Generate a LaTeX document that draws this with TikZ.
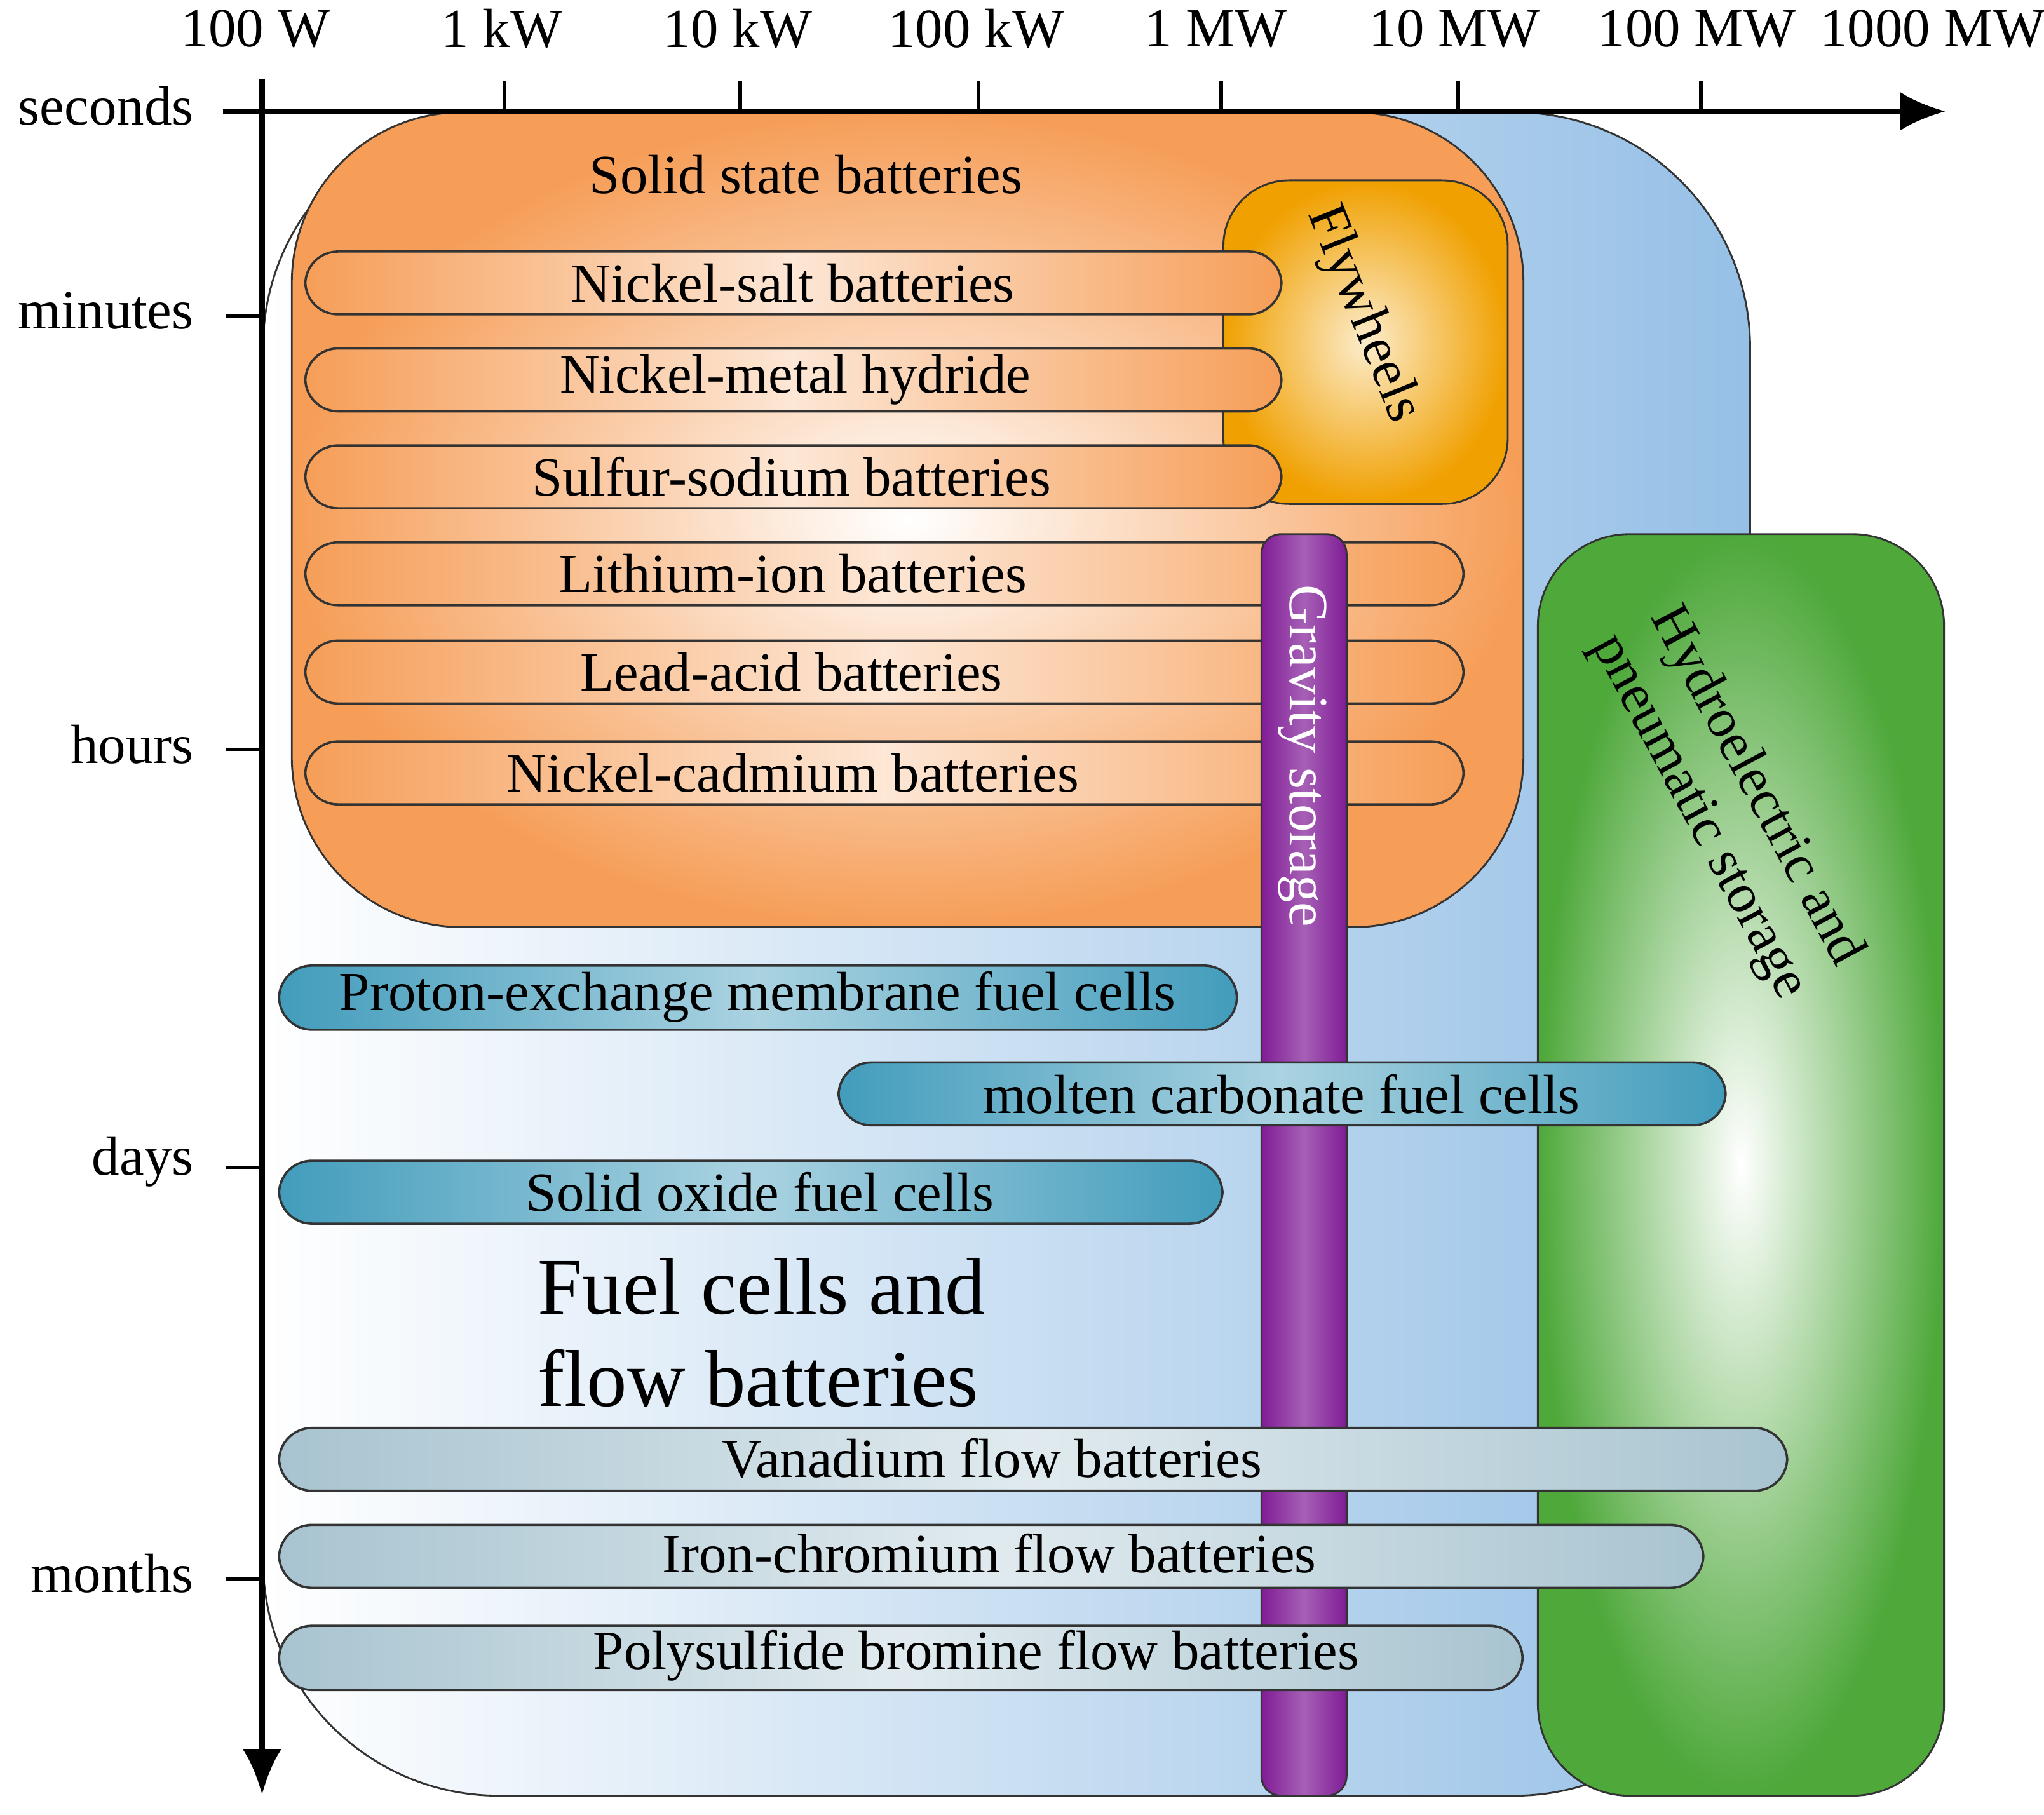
\documentclass[tikz,border=0pt]{standalone}
\usepackage{fontspec}
\setmainfont{Liberation Serif}
\usetikzlibrary{arrows.meta}
\definecolor{bl}{RGB}{150,192,230}
\definecolor{org}{RGB}{246,158,88}
\definecolor{fly}{RGB}{240,160,0}
\definecolor{pur}{RGB}{128,28,150}
\definecolor{grn}{RGB}{78,168,58}
\definecolor{teal}{RGB}{66,156,188}
\definecolor{gry}{RGB}{168,196,208}
\tikzset{
 lab/.style={font=\fontsize{12}{14}\selectfont},
 obar/.style={draw=black!80,line width=0.5pt,rounded corners=2.5mm,left color=org,right color=org,middle color=org!25},
 tbar/.style={draw=black!80,line width=0.5pt,rounded corners=2.5mm,left color=teal,right color=teal,middle color=teal!45},
 gbar/.style={draw=black!80,line width=0.5pt,rounded corners=2.5mm,left color=gry,right color=gry,middle color=gry!35},
 tick/.style={line width=0.8pt},
}
\begin{document}
\begin{tikzpicture}[x=0.1mm,y=-0.1mm]
\useasboundingbox (0,0) rectangle (1560,1385);
% blue region
\node[draw=black!80,rounded corners=18mm,left color=white,right color=bl,minimum width=1135*0.1mm,minimum height=1285*0.1mm,inner sep=0pt,anchor=north west] (blue) at (200,85) {};
% green
\node[draw=black!80,rounded corners=7mm,inner color=white,outer color=grn,minimum width=310*0.1mm,minimum height=963*0.1mm,inner sep=0pt,anchor=north west] (green) at (1173,407) {};
\node[lab,rotate=-62,align=center] (gt) at (1318,612) {Hydroelectric and\\pneumatic storage};
% orange
\node[draw=black!80,rounded corners=13mm,inner color=white,outer color=org,minimum width=940*0.1mm,minimum height=622*0.1mm,inner sep=0pt,anchor=north west] (orange) at (222,85) {};
\node[lab] (ss) at (615,133) {Solid state batteries};
\node[draw=black!80,rounded corners=5mm,inner color=fly!20,outer color=fly,minimum width=217*0.1mm,minimum height=247*0.1mm,inner sep=0pt,anchor=north west] (fly) at (933,137) {};
\node[lab,rotate=-68] (flyt) at (1040,240) {Flywheels};
% orange bars
\foreach \n/\a/\b/\c/\t in {ns/192/978/605/Nickel-salt batteries, nm/266/978/607/Nickel-metal hydride, sn/340/978/604/Sulfur-sodium batteries, li/414/1117/605/Lithium-ion batteries, la/489/1117/604/Lead-acid batteries, nc/566/1117/605/Nickel-cadmium batteries}{
 \path[obar] (233,\a) rectangle (\b,\a+48);
 \node[lab] (\n) at (\c,\a+24) {\t};
}
% gravity
\node[draw=black!80,rounded corners=1.5mm,left color=pur,right color=pur,middle color=pur!70,minimum width=65*0.1mm,minimum height=963*0.1mm,inner sep=0pt,anchor=north west] (grav) at (962,407) {};
\node[lab,rotate=-90,text=white] (gravt) at (994,577) {Gravity storage};
% teal bars
\path[tbar] (213,737) rectangle (944,786); \node[lab] (pem) at (578,761) {Proton-exchange membrane fuel cells};
\path[tbar] (640,811) rectangle (1317,859); \node[lab] (mc) at (978,835) {molten carbonate fuel cells};
\path[tbar] (213,886) rectangle (933,934); \node[lab] (so) at (580,910) {Solid oxide fuel cells};
\node[font=\fontsize{17.5}{20}\selectfont,align=left,anchor=north west] (fc) at (398,948) {Fuel cells and\\flow batteries};
% gray bars
\path[gbar] (213,1090) rectangle (1364,1138); \node[lab] (va) at (757,1113) {Vanadium flow batteries};
\path[gbar] (213,1164) rectangle (1300,1212); \node[lab] (ic) at (755,1186) {Iron-chromium flow batteries};
\path[gbar] (213,1241) rectangle (1162,1290); \node[lab] (pb) at (745,1264) {Polysulfide bromine flow batteries};
% axes
\coordinate (xa) at (170,85); \coordinate (xb) at (1485,85);
\coordinate (ya) at (200,60); \coordinate (yb) at (200,1370);
\draw[line width=1.3pt,-{Latex[length=3.5mm,width=3mm]}] (xa) -- (xb);
\draw[line width=1.3pt,-{Latex[length=3.5mm,width=3mm]}] (ya) -- (yb);
\foreach \x/\l/\lx in {385/1 kW/383,565/10 kW/563,747/100 kW/745,932/1 MW/928,1113/10 MW/1110,1298/100 MW/1295}{
 \draw[tick] (\x,62) -- (\x,85);
 \node[lab] at (\lx,22) {\l};
}
\node[lab] at (195,22) {100 W};
\node[lab] at (1475,22) {1000 MW};
\foreach \y/\l in {85/seconds,241/minutes,572/hours,891/days,1205/months}{
 \draw[tick] (172,\y) -- (200,\y);
 \node[lab,anchor=east] at (160,\y-4) {\l};
}
\end{tikzpicture}
\end{document}
